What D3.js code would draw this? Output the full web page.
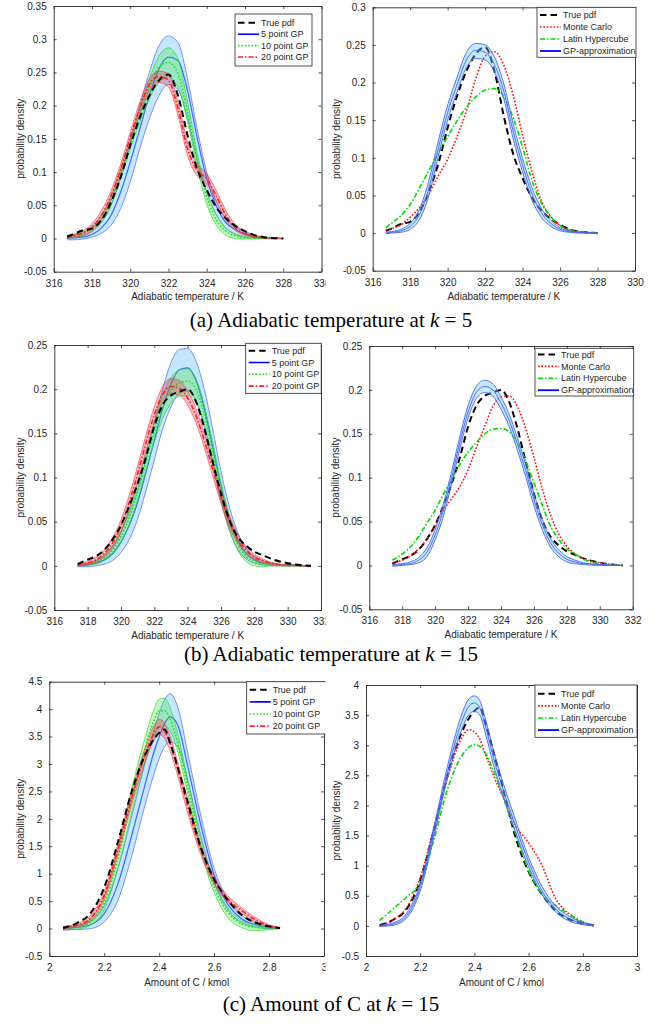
<!DOCTYPE html>
<html>
<head>
<meta charset="utf-8">
<style>
body { margin: 0; background: #fff; }
svg { display: block; }
text { font-family: "Liberation Sans", Arial, Helvetica, sans-serif; fill: #262626; }
text.cap, text.cap tspan { font-family: "Liberation Serif", "Times New Roman", "DejaVu Serif", serif; fill: #000; }
</style>
</head>
<body>
<svg width="662" height="1026"></svg>
<script src="https://cdn.jsdelivr.net/npm/d3@7"></script>
<script>
// ---- data ----
// row (a): adiabatic temperature, k = 5
var gridA = [316.7, 317, 317.5, 318, 318.5, 319, 319.5, 320, 320.5, 321, 321.5, 322, 322.5, 323, 323.5, 324, 324.5, 325, 325.5, 326, 326.5, 327, 328];
var truePdfA = [0.003, 0.006, 0.012, 0.015, 0.028, 0.055, 0.092, 0.140, 0.182, 0.215, 0.238, 0.247, 0.215, 0.155, 0.105, 0.073, 0.047, 0.030, 0.019, 0.011, 0.005, 0.002, 0.000];
var gp5HiA  = [0.001, 0.002, 0.004, 0.010, 0.025, 0.050, 0.095, 0.145, 0.200, 0.250, 0.290, 0.305, 0.295, 0.240, 0.165, 0.100, 0.056, 0.030, 0.018, 0.011, 0.005, 0.002, 0.000];
var gp5MidA = [0.000, 0.001, 0.002, 0.006, 0.016, 0.035, 0.070, 0.115, 0.165, 0.215, 0.255, 0.273, 0.268, 0.222, 0.152, 0.090, 0.049, 0.024, 0.013, 0.007, 0.003, 0.001, 0.000];
var gp5LoA  = [-0.002, -0.002, -0.001, 0.002, 0.008, 0.020, 0.045, 0.085, 0.135, 0.180, 0.215, 0.232, 0.224, 0.180, 0.118, 0.070, 0.036, 0.016, 0.006, 0.002, 0.001, 0.000, 0.000];
var gp10HiA  = [0.003, 0.005, 0.009, 0.018, 0.035, 0.065, 0.105, 0.150, 0.195, 0.240, 0.275, 0.287, 0.270, 0.205, 0.130, 0.070, 0.035, 0.015, 0.007, 0.003, 0.001, 0.000, 0.000];
var gp10MidA = [0.002, 0.003, 0.007, 0.015, 0.030, 0.058, 0.098, 0.142, 0.185, 0.228, 0.258, 0.265, 0.248, 0.190, 0.120, 0.062, 0.028, 0.011, 0.004, 0.001, 0.000, 0.000, 0.000];
var gp10LoA  = [0.000, 0.001, 0.004, 0.011, 0.024, 0.050, 0.090, 0.135, 0.175, 0.210, 0.235, 0.242, 0.228, 0.175, 0.108, 0.052, 0.020, 0.005, 0.000, -0.001, 0.000, 0.000, 0.000];
var gp20HiA  = [0.004, 0.006, 0.011, 0.022, 0.042, 0.072, 0.112, 0.160, 0.205, 0.240, 0.252, 0.248, 0.205, 0.145, 0.112, 0.098, 0.072, 0.042, 0.021, 0.010, 0.004, 0.002, 0.000];
var gp20MidA = [0.002, 0.004, 0.008, 0.017, 0.035, 0.064, 0.104, 0.152, 0.196, 0.232, 0.244, 0.238, 0.195, 0.135, 0.103, 0.090, 0.064, 0.035, 0.016, 0.007, 0.003, 0.001, 0.000];
var gp20LoA  = [0.000, 0.002, 0.005, 0.012, 0.028, 0.056, 0.096, 0.143, 0.186, 0.222, 0.235, 0.228, 0.185, 0.125, 0.094, 0.082, 0.056, 0.028, 0.012, 0.005, 0.002, 0.001, 0.000];
var mcA  = [0.004, 0.006, 0.011, 0.021, 0.034, 0.052, 0.076, 0.098, 0.128, 0.162, 0.205, 0.235, 0.241, 0.223, 0.183, 0.130, 0.082, 0.043, 0.022, 0.010, 0.004, 0.002, 0.000];
var lhsA = [0.007, 0.013, 0.023, 0.038, 0.060, 0.083, 0.106, 0.128, 0.149, 0.167, 0.181, 0.190, 0.192, 0.181, 0.153, 0.114, 0.070, 0.040, 0.022, 0.010, 0.004, 0.002, 0.000];
var gpHiA  = [0.001, 0.002, 0.005, 0.013, 0.032, 0.070, 0.122, 0.170, 0.207, 0.240, 0.252, 0.250, 0.234, 0.198, 0.145, 0.099, 0.060, 0.033, 0.017, 0.007, 0.003, 0.001, 0.000];
var gpMidA = [0.000, 0.001, 0.003, 0.009, 0.025, 0.060, 0.112, 0.160, 0.197, 0.230, 0.243, 0.240, 0.224, 0.188, 0.135, 0.090, 0.052, 0.027, 0.013, 0.005, 0.002, 0.001, 0.000];
var gpLoA  = [-0.001, 0.000, 0.001, 0.005, 0.018, 0.050, 0.102, 0.150, 0.187, 0.220, 0.232, 0.230, 0.214, 0.178, 0.125, 0.081, 0.044, 0.021, 0.009, 0.003, 0.001, 0.000, 0.000];

// row (b): adiabatic temperature, k = 15
var gridB = [317.4, 318, 318.5, 319, 319.5, 320, 320.5, 321, 321.5, 322, 322.5, 323, 323.5, 324, 324.5, 325, 325.5, 326, 326.5, 327, 327.5, 328, 328.5, 329, 330, 331.4];
var truePdfB = [0.002, 0.007, 0.011, 0.018, 0.030, 0.046, 0.068, 0.093, 0.123, 0.158, 0.182, 0.193, 0.197, 0.200, 0.186, 0.156, 0.118, 0.082, 0.052, 0.033, 0.023, 0.016, 0.012, 0.008, 0.003, 0.000];
var gp5HiB  = [0.001, 0.003, 0.006, 0.012, 0.022, 0.038, 0.060, 0.087, 0.122, 0.162, 0.200, 0.230, 0.245, 0.246, 0.232, 0.200, 0.155, 0.107, 0.067, 0.038, 0.020, 0.011, 0.006, 0.003, 0.001, 0.000];
var gp5MidB = [0.000, 0.001, 0.003, 0.007, 0.014, 0.027, 0.046, 0.072, 0.106, 0.142, 0.178, 0.206, 0.222, 0.224, 0.210, 0.178, 0.135, 0.090, 0.054, 0.029, 0.014, 0.007, 0.003, 0.002, 0.001, 0.000];
var gp5LoB  = [-0.001, -0.001, 0.000, 0.002, 0.006, 0.015, 0.030, 0.053, 0.085, 0.120, 0.155, 0.180, 0.195, 0.198, 0.187, 0.157, 0.115, 0.073, 0.040, 0.019, 0.008, 0.003, 0.001, 0.000, 0.000, 0.000];
var gp10HiB  = [0.001, 0.003, 0.006, 0.012, 0.023, 0.040, 0.063, 0.093, 0.128, 0.163, 0.193, 0.213, 0.222, 0.223, 0.212, 0.182, 0.140, 0.095, 0.057, 0.030, 0.015, 0.008, 0.004, 0.002, 0.001, 0.000];
var gp10MidB = [0.000, 0.002, 0.004, 0.009, 0.018, 0.033, 0.055, 0.084, 0.118, 0.152, 0.180, 0.198, 0.207, 0.209, 0.200, 0.172, 0.130, 0.086, 0.050, 0.025, 0.011, 0.005, 0.002, 0.001, 0.000, 0.000];
var gp10LoB  = [0.000, 0.001, 0.002, 0.006, 0.013, 0.026, 0.047, 0.075, 0.108, 0.140, 0.167, 0.184, 0.192, 0.193, 0.185, 0.160, 0.120, 0.077, 0.042, 0.018, 0.005, 0.000, -0.001, 0.000, 0.000, 0.000];
var gp20HiB  = [0.002, 0.005, 0.010, 0.018, 0.032, 0.052, 0.080, 0.113, 0.148, 0.180, 0.203, 0.212, 0.210, 0.198, 0.178, 0.150, 0.118, 0.085, 0.057, 0.036, 0.022, 0.013, 0.008, 0.004, 0.001, 0.000];
var gp20MidB = [0.001, 0.003, 0.007, 0.014, 0.026, 0.045, 0.072, 0.104, 0.139, 0.171, 0.194, 0.203, 0.201, 0.190, 0.170, 0.142, 0.110, 0.078, 0.050, 0.031, 0.018, 0.010, 0.006, 0.003, 0.001, 0.000];
var gp20LoB  = [0.000, 0.001, 0.004, 0.010, 0.020, 0.038, 0.064, 0.095, 0.130, 0.162, 0.185, 0.195, 0.193, 0.182, 0.162, 0.134, 0.102, 0.071, 0.044, 0.026, 0.014, 0.007, 0.004, 0.002, 0.000, 0.000];
var mcB  = [0.003, 0.006, 0.011, 0.019, 0.030, 0.046, 0.063, 0.076, 0.090, 0.109, 0.134, 0.158, 0.181, 0.192, 0.193, 0.181, 0.156, 0.123, 0.088, 0.058, 0.036, 0.022, 0.013, 0.008, 0.003, 0.000];
var lhsB = [0.006, 0.013, 0.021, 0.033, 0.048, 0.063, 0.081, 0.098, 0.115, 0.129, 0.140, 0.150, 0.155, 0.156, 0.152, 0.140, 0.119, 0.094, 0.069, 0.045, 0.030, 0.019, 0.013, 0.007, 0.002, 0.000];
var gpHiB  = [0.001, 0.002, 0.004, 0.009, 0.020, 0.041, 0.070, 0.107, 0.147, 0.182, 0.204, 0.211, 0.207, 0.192, 0.172, 0.145, 0.115, 0.082, 0.053, 0.031, 0.018, 0.010, 0.006, 0.003, 0.001, 0.000];
var gpMidB = [0.000, 0.001, 0.002, 0.006, 0.015, 0.035, 0.063, 0.100, 0.140, 0.175, 0.197, 0.204, 0.200, 0.185, 0.165, 0.138, 0.108, 0.075, 0.047, 0.026, 0.014, 0.007, 0.004, 0.002, 0.001, 0.000];
var gpLoB  = [-0.001, 0.000, 0.001, 0.003, 0.010, 0.029, 0.056, 0.093, 0.133, 0.168, 0.190, 0.197, 0.193, 0.178, 0.158, 0.131, 0.101, 0.068, 0.041, 0.021, 0.010, 0.004, 0.002, 0.001, 0.000, 0.000];

// row (c): amount of C, k = 15
var gridC = [2.05, 2.1, 2.15, 2.2, 2.25, 2.3, 2.35, 2.38, 2.4, 2.42, 2.44, 2.47, 2.5, 2.55, 2.6, 2.65, 2.7, 2.75, 2.8, 2.84];
var truePdfC = [0.01, 0.10, 0.28, 0.75, 1.58, 2.50, 3.18, 3.45, 3.57, 3.63, 3.38, 2.90, 2.38, 1.50, 0.90, 0.52, 0.25, 0.11, 0.04, 0.01];
var gp5HiC  = [0.03, 0.06, 0.14, 0.42, 1.10, 2.05, 3.05, 3.60, 3.92, 4.18, 4.28, 4.00, 3.30, 2.10, 1.10, 0.52, 0.24, 0.10, 0.04, 0.02];
var gp5MidC = [0.00, 0.02, 0.07, 0.27, 0.82, 1.70, 2.65, 3.20, 3.50, 3.74, 3.86, 3.68, 3.05, 1.92, 0.98, 0.44, 0.18, 0.07, 0.02, 0.01];
var gp5LoC  = [-0.03, -0.02, 0.00, 0.12, 0.52, 1.32, 2.28, 2.80, 3.10, 3.32, 3.40, 3.30, 2.78, 1.72, 0.84, 0.34, 0.11, 0.03, 0.00, 0.00];
var gp10HiC  = [0.02, 0.05, 0.18, 0.58, 1.45, 2.55, 3.50, 3.98, 4.18, 4.20, 4.02, 3.50, 2.80, 1.65, 0.85, 0.38, 0.15, 0.06, 0.02, 0.01];
var gp10MidC = [0.00, 0.02, 0.12, 0.46, 1.28, 2.35, 3.30, 3.78, 3.97, 3.97, 3.82, 3.34, 2.68, 1.56, 0.76, 0.30, 0.09, 0.02, 0.00, 0.00];
var gp10LoC  = [-0.02, -0.01, 0.06, 0.34, 1.10, 2.12, 3.05, 3.48, 3.66, 3.70, 3.60, 3.18, 2.55, 1.46, 0.66, 0.20, 0.02, -0.04, -0.02, 0.00];
var gp20HiC  = [0.04, 0.09, 0.24, 0.68, 1.55, 2.50, 3.30, 3.68, 3.82, 3.74, 3.50, 2.98, 2.42, 1.55, 0.95, 0.60, 0.38, 0.20, 0.07, 0.02];
var gp20MidC = [0.02, 0.06, 0.19, 0.60, 1.45, 2.38, 3.18, 3.55, 3.68, 3.60, 3.37, 2.86, 2.30, 1.46, 0.88, 0.54, 0.33, 0.16, 0.05, 0.01];
var gp20LoC  = [0.00, 0.03, 0.14, 0.52, 1.35, 2.26, 3.06, 3.42, 3.54, 3.46, 3.24, 2.74, 2.18, 1.37, 0.81, 0.48, 0.28, 0.12, 0.03, 0.00];
var mcC  = [0.00, 0.10, 0.30, 0.80, 1.62, 2.45, 3.09, 3.26, 3.22, 3.10, 2.86, 2.50, 2.20, 1.68, 1.38, 1.00, 0.45, 0.20, 0.06, 0.00];
var lhsC = [0.09, 0.28, 0.48, 0.71, 1.42, 2.26, 2.80, 2.97, 3.01, 2.98, 2.88, 2.58, 2.22, 1.56, 0.92, 0.52, 0.34, 0.19, 0.07, 0.00];
var gpHiC  = [0.01, 0.05, 0.21, 0.70, 1.63, 2.64, 3.47, 3.77, 3.82, 3.74, 3.45, 2.92, 2.46, 1.78, 1.14, 0.65, 0.33, 0.16, 0.06, 0.02];
var gpMidC = [0.00, 0.03, 0.17, 0.64, 1.55, 2.54, 3.35, 3.65, 3.70, 3.62, 3.33, 2.80, 2.35, 1.68, 1.06, 0.58, 0.28, 0.12, 0.04, 0.01];
var gpLoC  = [-0.01, 0.01, 0.13, 0.58, 1.47, 2.44, 3.22, 3.51, 3.56, 3.50, 3.21, 2.68, 2.24, 1.58, 0.98, 0.52, 0.23, 0.08, 0.02, 0.00];

// ticks and labels
var xTicksA = [316, 318, 320, 322, 324, 326, 328, 330];
var yTicksA = [-0.05, 0, 0.05, 0.1, 0.15, 0.2, 0.25, 0.3, 0.35];
var yTicksA2 = [-0.05, 0, 0.05, 0.1, 0.15, 0.2, 0.25, 0.3];
var xTicksB = [316, 318, 320, 322, 324, 326, 328, 330, 332];
var yTicksB = [-0.05, 0, 0.05, 0.1, 0.15, 0.2, 0.25];
var xTicksC = [2, 2.2, 2.4, 2.6, 2.8, 3];
var yTicksC = [-0.5, 0, 0.5, 1, 1.5, 2, 2.5, 3, 3.5, 4, 4.5];
var yTicksC2 = [-0.5, 0, 0.5, 1, 1.5, 2, 2.5, 3, 3.5, 4];
var leftLegend = ["True pdf", "5 point GP", "10 point GP", "20 point GP"];
var rightLegend = ["True pdf", "Monte Carlo", "Latin Hypercube", "GP-approximation"];
var tempLabel = "Adiabatic temperature / K";
var amountLabel = "Amount of C / kmol";
var yLabel = "probability density";
var captionText = ["(a) Adiabatic temperature at ", "(b) Adiabatic temperature at ", "(c) Amount of C at "];
var captionK = ["5", "15", "15"];

// ---- styles ----
var st = {
  truePdf: { stroke: "#000", width: 2, dash: "6.5,4" },
  gp5:  { stroke: "#1a2cff", width: 1.2, dash: null, fill: "rgb(110,195,250)", fillOp: 0.4, edge: "rgb(70,100,240)", legW: 1.6 },
  gp10: { stroke: "#1fe01f", width: 1.6, dash: "1.6,1.8", fill: "rgb(40,230,40)", fillOp: 0.27, edge: "rgb(40,215,40)", legW: 1.6 },
  gp20: { stroke: "#ff2020", width: 1.6, dash: "5,2,1.5,2", fill: "rgb(240,40,70)", fillOp: 0.3, edge: "rgb(240,70,80)", legW: 1.6 },
  mc:   { stroke: "#ff1010", width: 1.6, dash: "1.6,1.8", legW: 1.6 },
  lhs:  { stroke: "#00dd00", width: 1.6, dash: "5,2,1.5,2", legW: 1.6 },
  gpA:  { stroke: "rgb(70,100,240)", width: 1, dash: null, fill: "rgb(110,195,250)", fillOp: 0.4, edge: "rgb(70,100,240)", legW: 1.8, legStroke: "#0000ff" }
};

var svg = d3.select("svg");
svg.append("defs").append("clipPath").attr("id", "leftcol")
  .append("rect").attr("x", 0).attr("y", 0).attr("width", 325.5).attr("height", 1026);

var fmt = function (d) { return String(+d.toFixed(2)); };

var panels = [
  { col: 0, left: 53.7, right: 321.5, top: 6, bottom: 271.7, xd: [316, 330], yd: [-0.05, 0.35], xt: xTicksA, yt: yTicksA, xl: tempLabel, xs: gridA,
    truth: truePdfA, bands: [[gp5HiA, gp5MidA, gp5LoA, st.gp5], [gp10HiA, gp10MidA, gp10LoA, st.gp10], [gp20HiA, gp20MidA, gp20LoA, st.gp20]],
    leg: { x: 235, y: 14, w: 77, h: 52, r0: 22.8, dy: 11.4 }, ylx: 23.5, xly: 299.5 },
  { col: 1, left: 372.7, right: 635, top: 7.3, bottom: 270.7, xd: [316, 330], yd: [-0.05, 0.3], xt: xTicksA, yt: yTicksA2, xl: tempLabel, xs: gridA,
    truth: truePdfA, others: [mcA, lhsA], gp: [gpHiA, gpMidA, gpLoA],
    leg: { x: 537, y: 7.3, w: 99, h: 50, r0: 15, dy: 12 }, ylx: 339.5, xly: 299.5 },
  { col: 0, left: 54.3, right: 321, top: 345, bottom: 610, xd: [316, 332], yd: [-0.05, 0.25], xt: xTicksB, yt: yTicksB, xl: tempLabel, xs: gridB,
    truth: truePdfB, bands: [[gp5HiB, gp5MidB, gp5LoB, st.gp5], [gp10HiB, gp10MidB, gp10LoB, st.gp10], [gp20HiB, gp20MidB, gp20LoB, st.gp20]],
    leg: { x: 245.7, y: 343.3, w: 75.5, h: 50, r0: 350.7, dy: 11.8 }, ylx: 24, xly: 638.5 },
  { col: 1, left: 369.3, right: 632.7, top: 346, bottom: 609.3, xd: [316, 332], yd: [-0.05, 0.25], xt: xTicksB, yt: yTicksB, xl: tempLabel, xs: gridB,
    truth: truePdfB, others: [mcB, lhsB], gp: [gpHiB, gpMidB, gpLoB],
    leg: { x: 535, y: 348.3, w: 98.7, h: 47.7, r0: 354.5, dy: 11.9 }, ylx: 338.5, xly: 637.5 },
  { col: 0, left: 49.3, right: 324, top: 681.7, bottom: 956, xd: [2, 3], yd: [-0.5, 4.5], xt: xTicksC, yt: yTicksC, xl: amountLabel, xs: gridC,
    truth: truePdfC, bands: [[gp5HiC, gp5MidC, gp5LoC, st.gp5], [gp10HiC, gp10MidC, gp10LoC, st.gp10], [gp20HiC, gp20MidC, gp20LoC, st.gp20]],
    leg: { x: 246.7, y: 681.7, w: 80, h: 52.3, r0: 689.8, dy: 12.1 }, ylx: 23.5, xly: 986 },
  { col: 1, left: 366, right: 637, top: 685, bottom: 956, xd: [2, 3], yd: [-0.5, 4], xt: xTicksC, yt: yTicksC2, xl: amountLabel, xs: gridC,
    truth: truePdfC, others: [mcC, lhsC], gp: [gpHiC, gpMidC, gpLoC],
    leg: { x: 535, y: 685, w: 102, h: 52.3, r0: 693.8, dy: 12.1 }, ylx: 339.5, xly: 986 }
];

function styleLine(sel, s, stroke) {
  sel.attr("fill", "none").attr("stroke", stroke || s.stroke).attr("stroke-width", s.width)
    .attr("stroke-dasharray", s.dash).attr("stroke-linejoin", "round");
}

panels.forEach(function (p) {
  var g = svg.append("g");
  if (p.col === 0) g.attr("clip-path", "url(#leftcol)");
  var x = d3.scaleLinear().domain(p.xd).range([p.left, p.right]);
  var y = d3.scaleLinear().domain(p.yd).range([p.bottom, p.top]);
  var line = function (vals) {
    return d3.line().curve(d3.curveMonotoneX).x(function (d, i) { return x(p.xs[i]); }).y(function (d) { return y(d); })(vals);
  };
  var area = function (hi, lo) {
    return d3.area().curve(d3.curveMonotoneX).x(function (d, i) { return x(p.xs[i]); })
      .y0(function (d, i) { return y(lo[i]); }).y1(function (d) { return y(d); })(hi);
  };

  if (p.bands) {
    p.bands.forEach(function (b) {
      var s = b[3];
      g.append("path").attr("d", line(b[1])).call(styleLine, s);
      g.append("path").attr("d", area(b[0], b[2])).attr("fill", s.fill).attr("fill-opacity", s.fillOp);
      [b[0], b[2]].forEach(function (e) {
        g.append("path").attr("d", line(e)).attr("fill", "none").attr("stroke", s.edge).attr("stroke-width", 0.8).attr("stroke-opacity", 0.85);
      });
    });
    g.append("path").attr("d", line(p.truth)).call(styleLine, st.truePdf);
  } else {
    g.append("path").attr("d", line(p.truth)).call(styleLine, st.truePdf);
    g.append("path").attr("d", line(p.others[0])).call(styleLine, st.mc);
    g.append("path").attr("d", line(p.others[1])).call(styleLine, st.lhs);
    g.append("path").attr("d", area(p.gp[0], p.gp[2])).attr("fill", st.gpA.fill).attr("fill-opacity", st.gpA.fillOp);
    p.gp.forEach(function (e) {
      g.append("path").attr("d", line(e)).attr("fill", "none").attr("stroke", st.gpA.edge).attr("stroke-width", 1).attr("stroke-opacity", 0.9);
    });
  }

  // axes (MATLAB style box, ticks inward)
  var axes = [
    [d3.axisBottom(x).tickValues(p.xt).tickFormat(fmt).tickPadding(8), "translate(0," + p.bottom + ")"],
    [d3.axisTop(x).tickValues(p.xt).tickFormat(""), "translate(0," + p.top + ")"],
    [d3.axisLeft(y).tickValues(p.yt).tickFormat(fmt).tickPadding(7), "translate(" + p.left + ",0)"],
    [d3.axisRight(y).tickValues(p.yt).tickFormat(""), "translate(" + p.right + ",0)"]
  ];
  axes.forEach(function (a) {
    var ag = g.append("g").attr("transform", a[1]).call(a[0].tickSize(-3).tickSizeOuter(0));
    ag.attr("font-size", 10).attr("font-family", "Liberation Sans, Arial, sans-serif").attr("color", "#262626");
    ag.selectAll("line").attr("stroke-width", 0.8);
    ag.select(".domain").attr("stroke-width", 0.9);
  });

  g.append("text").attr("x", (p.left + p.right) / 2).attr("y", p.xly).attr("text-anchor", "middle")
    .attr("font-size", 10).text(p.xl);
  g.append("text").attr("transform", "translate(" + p.ylx + "," + (p.top + p.bottom) / 2 + ") rotate(-90)")
    .attr("text-anchor", "middle").attr("font-size", 10).text(yLabel);

  // legend
  var L = p.leg;
  var lg = g.append("g");
  lg.append("rect").attr("x", L.x).attr("y", L.y).attr("width", L.w).attr("height", L.h)
    .attr("fill", "#fff").attr("stroke", "#262626").attr("stroke-width", 0.8);
  var names = p.bands ? leftLegend : rightLegend;
  var ls = p.bands ? [st.truePdf, st.gp5, st.gp10, st.gp20] : [st.truePdf, st.mc, st.lhs, st.gpA];
  names.forEach(function (n, i) {
    var yy = L.r0 + i * L.dy;
    var s = ls[i];
    lg.append("line").attr("x1", L.x + 3).attr("x2", L.x + 24).attr("y1", yy).attr("y2", yy)
      .attr("stroke", s.legStroke || (s === st.gp5 ? "#0000ff" : s.stroke))
      .attr("stroke-width", s.legW || s.width).attr("stroke-dasharray", s.dash);
    lg.append("text").attr("x", L.x + 26).attr("y", yy).attr("dy", "0.35em").attr("font-size", 9).text(n);
  });
});

// captions
var capY = [327, 661, 1011];
captionText.forEach(function (c, i) {
  var t = svg.append("text").attr("class", "cap").attr("x", 331).attr("y", capY[i])
    .attr("text-anchor", "middle").attr("font-size", 21)
    .style("font-family", "'Liberation Serif', 'Times New Roman', serif");
  t.append("tspan").text(c);
  t.append("tspan").attr("font-style", "italic").text("k");
  t.append("tspan").text(" = " + captionK[i]);
});
</script>
</body>
</html>
